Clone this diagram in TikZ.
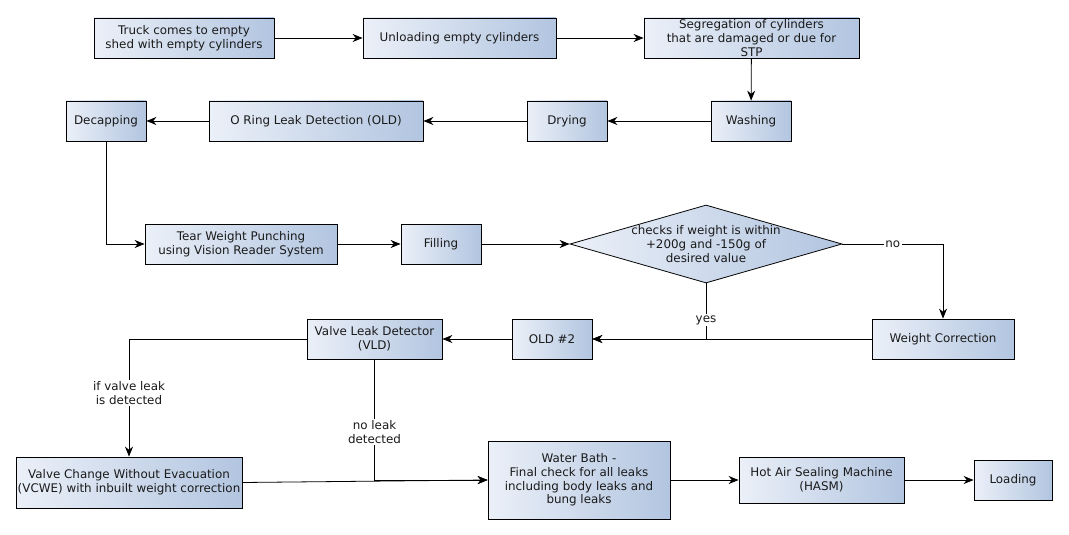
\documentclass[tikz,border=0pt]{standalone}
\usepackage{fontspec}
\setmainfont{DejaVu Sans}
\usetikzlibrary{arrows.meta,shapes.geometric}
\definecolor{boxlo}{HTML}{EBF0F8}
\definecolor{boxhi}{HTML}{B2C5E0}
\definecolor{inkgray}{HTML}{1A1A1A}
\tikzset{
  stage/.style={draw=black,line width=0.8pt,rectangle,align=center,inner sep=1pt,left color=boxlo,right color=boxhi,text=inkgray},
  arr/.style={-{Stealth[length=10pt,width=8pt]},line width=0.8pt},
  lbl/.style={fill=white,inner sep=1.5pt,align=center,text=inkgray}
}
\begin{document}
\begin{tikzpicture}[x=1pt,y=-1pt,every node/.style={font=\fontsize{11.9}{13.8}\selectfont}]
\useasboundingbox (0,0) rectangle (1069,535);
% first row
\node[stage,minimum width=180pt,minimum height=40pt] (truck) at (184,38) {Truck comes to empty\\shed with empty cylinders};
\node[stage,minimum width=193pt,minimum height=40pt] (unload) at (459.5,38) {Unloading empty cylinders};
\node[stage,minimum width=215pt,minimum height=40pt] (segreg) at (751.5,38) {Segregation of cylinders\\that are damaged or due for\\STP};
% second row
\node[stage,minimum width=80pt,minimum height=40pt] (wash) at (751,121) {Washing};
\node[stage,minimum width=80pt,minimum height=40pt] (dry) at (567,121) {Drying};
\node[stage,minimum width=214pt,minimum height=40pt] (oring) at (316,121) {O Ring Leak Detection (OLD)};
\node[stage,minimum width=80pt,minimum height=40pt] (decap) at (106,121) {Decapping};
% third row
\node[stage,minimum width=192pt,minimum height=40pt] (tear) at (241,244) {Tear Weight Punching\\using Vision Reader System};
\node[stage,minimum width=80pt,minimum height=40pt] (filling) at (441,244) {Filling};
\node[stage,diamond,aspect=3.49,inner sep=-8pt,minimum width=272pt,minimum height=78pt] (check) at (706,244) {checks if weight is within\\+200g and -150g of\\desired value};
% fourth row
\node[stage,minimum width=142pt,minimum height=40pt] (wcorr) at (943,339) {Weight Correction};
\node[stage,minimum width=80pt,minimum height=40pt] (old2) at (552,339) {OLD \#2};
\node[stage,minimum width=135pt,minimum height=40pt] (vld) at (374.5,339) {Valve Leak Detector\\(VLD)};
% last row
\node[stage,minimum width=226pt,minimum height=51pt] (vcwe) at (129,482.5) {Valve Change Without Evacuation\\(VCWE) with inbuilt weight correction};
\node[stage,minimum width=182pt,minimum height=78pt] (bath) at (579,480) {Water Bath -\\Final check for all leaks\\including body leaks and\\bung leaks};
\node[stage,minimum width=165pt,minimum height=46pt] (hasm) at (821.5,480) {Hot Air Sealing Machine\\(HASM)};
\node[stage,minimum width=78pt,minimum height=40pt] (load) at (1013,480) {Loading};
% connectors
\draw[arr] (truck) -- (unload); \draw[arr] (unload) -- (segreg); \draw[arr] (segreg) -- (wash);
\draw[arr] (wash) -- (dry); \draw[arr] (dry) -- (oring); \draw[arr] (oring) -- (decap);
\draw[arr] (decap.south) |- (tear.west);
\draw[arr] (tear) -- (filling); \draw[arr] (filling) -- (check.west);
\draw[arr] (check.east) -| node[lbl,pos=0.25] {no} (wcorr.north);
\draw[arr] (wcorr) -- (old2);
\draw[arr] (check.south) |- node[lbl,pos=0.33] {yes} (old2.east);
\draw[arr] (old2) -- (vld);
\draw[arr] (vld.west) -| node[lbl,pos=0.73] {if valve leak\\is detected} (vcwe.north);
\draw[arr] (vld.south) |- node[lbl,pos=0.3] {no leak\\detected} (bath.west);
\draw[arr] (vcwe.east) -- (bath.west);
\draw[arr] (bath) -- (hasm); \draw[arr] (hasm) -- (load);
\end{tikzpicture}
\end{document}
